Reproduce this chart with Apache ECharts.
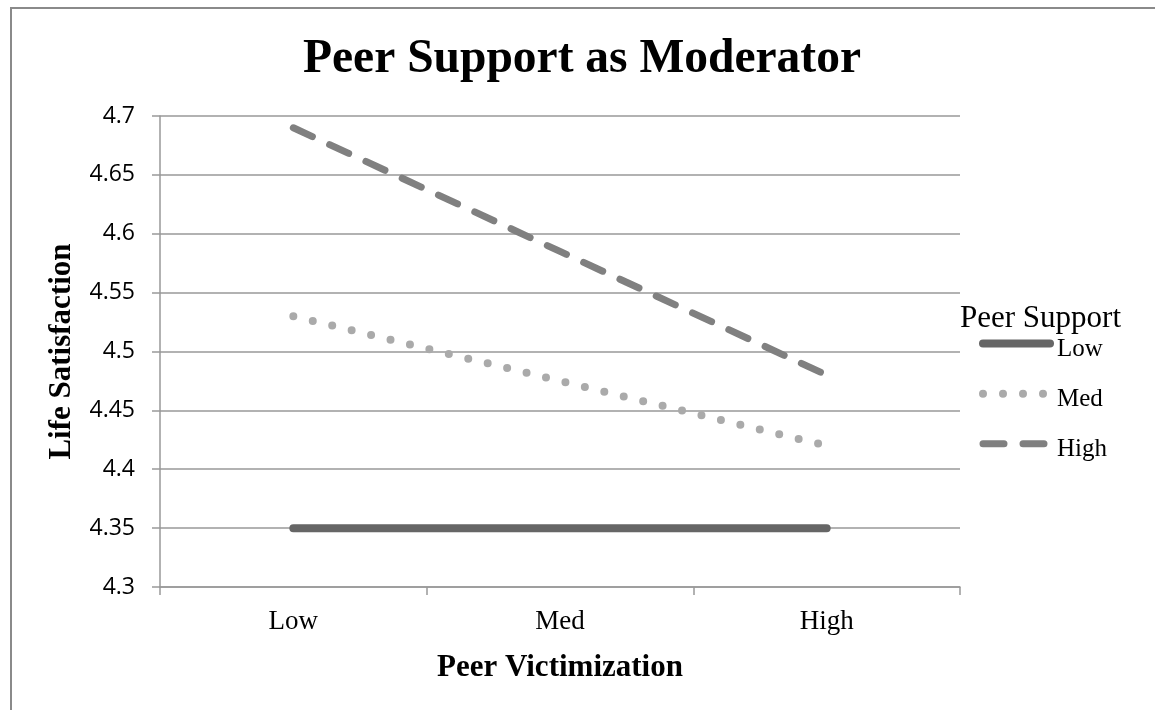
<!DOCTYPE html>
<html>
<head>
<meta charset="utf-8">
<script src="https://cdn.jsdelivr.net/npm/echarts@6/dist/echarts.min.js"></script>
<style>
  html, body { margin: 0; padding: 0; background: #fff; overflow: hidden; }
  #frame {
    position: absolute; left: 10px; top: 7px; width: 1200px; height: 800px;
    border-top: 2px solid #8a8a8a; border-left: 2px solid #8a8a8a;
  }
  #chart { position: absolute; left: 0; top: 0; width: 1155px; height: 710px; }
</style>
</head>
<body>
<div id="frame"></div>
<div id="chart"></div>
<script>
// categories (peer victimization)
const categories = ["Low", "Med", "High"];
// life satisfaction per peer-support level
const lowSupport = [4.35, 4.35, 4.35];
const medSupport = [4.53, 4.475, 4.42];
const highSupport = [4.69, 4.585, 4.48];
// y axis range
const yMin = 4.3;
const yMax = 4.7;
const yStep = 0.05;

const serif = "'Liberation Serif', 'Times New Roman', serif";
const gridColor = "#999";

const lowStyle = { color: "#666", width: 8, cap: "round", type: "solid" };
const medStyle = { color: "#aaa", width: 8, cap: "round", type: [0, 20] };
const highStyle = { color: "#808080", width: 7, cap: "round", type: [21, 19] };

let chart = echarts.init(document.getElementById("chart"));

let option = {
  backgroundColor: "transparent",
  animation: false,
  title: {
    text: "Peer Support as Moderator",
    left: 298,
    top: 31,
    textStyle: { fontFamily: serif, fontSize: 47.5, fontWeight: "bold", color: "#000" }
  },
  graphic: [
    {
      type: "text",
      left: 960,
      top: 303,
      style: { text: "Peer Support", font: "31px " + serif, fill: "#000" }
    }
  ],
  legend: {
    orient: "vertical",
    left: 979,
    top: 334,
    padding: 0,
    itemWidth: 67,
    itemHeight: 24,
    itemGap: 22,
    formatter: "{t|{name}}",
    textStyle: {
      fontFamily: serif, fontSize: 25, color: "#000",
      rich: { t: { fontFamily: serif, fontSize: 25, color: "#000", padding: [12, 0, 0, 2] } }
    },
    itemStyle: { opacity: 0 },
    data: [
      { name: "Low", lineStyle: lowStyle },
      { name: "Med", lineStyle: medStyle },
      { name: "High", lineStyle: highStyle }
    ]
  },
  grid: {
    left: 160,
    right: 195,
    top: 116,
    bottom: 123
  },
  xAxis: {
    type: "category",
    data: categories,
    boundaryGap: true,
    name: "Peer Victimization",
    nameLocation: "middle",
    nameGap: 65,
    nameTextStyle: { fontFamily: serif, fontSize: 31, fontWeight: "bold", color: "#000", verticalAlign: "top" },
    axisLine: { show: true, lineStyle: { color: gridColor, width: 1.5 } },
    axisTick: { show: true, length: 8, alignWithLabel: false, lineStyle: { color: gridColor, width: 1.5 } },
    axisLabel: { margin: 21, fontFamily: serif, fontSize: 27, color: "#000" },
    splitLine: { show: false }
  },
  yAxis: {
    type: "value",
    min: yMin,
    max: yMax,
    interval: yStep,
    name: "Life Satisfaction",
    nameLocation: "middle",
    nameRotate: 90,
    nameGap: 83,
    nameTextStyle: { fontFamily: serif, fontSize: 31, fontWeight: "bold", color: "#000" },
    axisLine: { show: true, lineStyle: { color: gridColor, width: 1.5 } },
    axisTick: { show: true, length: 8, lineStyle: { color: gridColor, width: 1.5 } },
    axisLabel: {
      margin: 25,
      fontFamily: "'Open Sans', sans-serif",
      fontSize: 23,
      color: "#000",
      formatter: v => String(+v.toFixed(2))
    },
    splitLine: { show: true, lineStyle: { color: gridColor, width: 1.5 } }
  },
  series: [
    { name: "Low", type: "line", data: lowSupport, symbol: "none", lineStyle: lowStyle },
    { name: "Med", type: "line", data: medSupport, symbol: "none", lineStyle: medStyle },
    { name: "High", type: "line", data: highSupport, symbol: "none", lineStyle: highStyle }
  ]
};

chart.setOption(option);
</script>
</body>
</html>
